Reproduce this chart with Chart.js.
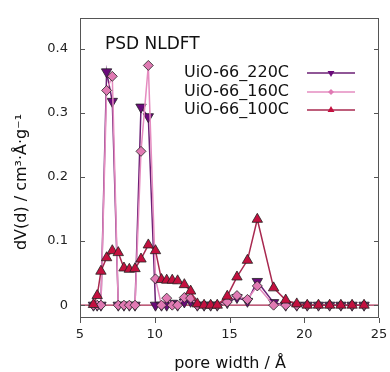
<!DOCTYPE html>
<html>
<head>
<meta charset="utf-8">
<script src="https://cdn.jsdelivr.net/npm/chart.js@4"></script>
<style>
  html, body { margin: 0; padding: 0; background: #fff; }
  #wrap { width: 390px; height: 372px; }
</style>
</head>
<body>
<div id="wrap"><canvas id="psdChart"></canvas></div>
<script>
// pore widths (Å), shared by all three samples
const poreWidth = [5.9, 6.15, 6.4, 6.78, 7.16, 7.56, 7.94, 8.3, 8.68, 9.08, 9.57, 10.05, 10.45, 10.8, 11.17, 11.53, 11.98, 12.4, 12.85, 13.3, 13.74, 14.18, 14.85, 15.5, 16.2, 16.86, 17.95, 18.76, 19.5, 20.2, 20.95, 21.7, 22.45, 23.2, 24.0];
// dV(d) per sample
const psd220 = [0, 0, 0, 0.364, 0.318, 0, 0, 0, 0, 0.309, 0.294, 0, 0, 0, 0.003, 0, 0.005, 0.006, 0, 0, 0, 0, 0.004, 0.012, 0.006, 0.037, 0.004, 0, 0, 0, 0, 0, 0, 0, 0];
const psd160 = [0, 0, 0, 0.335, 0.357, 0, 0, 0, 0, 0.24, 0.374, 0.041, 0, 0.011, 0, 0, 0.012, 0.011, 0, 0, 0, 0, 0.005, 0.015, 0.009, 0.03, 0, 0, 0, 0, 0, 0, 0, 0, 0];
const psd100 = [0.001, 0.015, 0.053, 0.074, 0.085, 0.082, 0.058, 0.056, 0.057, 0.072, 0.094, 0.085, 0.04, 0.039, 0.039, 0.038, 0.032, 0.022, 0.002, 0, 0, 0, 0.014, 0.044, 0.07, 0.134, 0.027, 0.008, 0.002, 0, 0, 0, 0, 0, 0];
const seriesNames = ["UiO-66_220C", "UiO-66_160C", "UiO-66_100C"];
const xTicks = [5, 10, 15, 20, 25];
const yTicks = [0, 0.1, 0.2, 0.3, 0.4];

const FONT = "'DejaVu Sans', sans-serif";
const lineCols = ["#6b1f75", "#e58cc0", "#a8284f"];
const fillCols = ["#6a0a7a", "#e07ab3", "#c4103f"];
const styles = [
  { pointStyle: "triangle", rotation: 180, radius: 6 },
  { pointStyle: "rectRot", rotation: 0, radius: 5 },
  { pointStyle: "triangle", rotation: 0, radius: 6 },
];

const toPts = (ys) => poreWidth.map((x, i) => ({ x: x, y: ys[i] }));

const datasets = [psd220, psd160, psd100].map((ys, i) => ({
  label: seriesNames[i],
  data: toPts(ys),
  borderColor: lineCols[i],
  borderWidth: 1.5,
  backgroundColor: fillCols[i],
  pointBackgroundColor: fillCols[i],
  pointBorderColor: "#222",
  pointBorderWidth: 0.8,
  pointStyle: styles[i].pointStyle,
  pointRotation: styles[i].rotation,
  pointRadius: styles[i].radius,
  tension: 0,
  order: 3 - i,
}));

// frame, ticks, zero line and texts
const decor = {
  id: "decor",
  beforeDatasetsDraw(chart) {
    const { ctx, chartArea: a, scales } = chart;
    const y0 = scales.y.getPixelForValue(0);
    ctx.save();
    ctx.strokeStyle = lineCols[2];
    ctx.lineWidth = 1.2;
    ctx.beginPath();
    ctx.moveTo(a.left, y0);
    ctx.lineTo(a.right, y0);
    ctx.stroke();
    ctx.restore();
  },
  afterDraw(chart) {
    const { ctx, chartArea: a, scales } = chart;
    ctx.save();
    ctx.strokeStyle = "#555";
    ctx.lineWidth = 1;
    ctx.strokeRect(a.left + 0.5, a.top + 0.5, a.right - a.left - 1, a.bottom - a.top - 1);
    ctx.beginPath();
    yTicks.forEach((v) => {
      const p = Math.round(scales.y.getPixelForValue(v)) + 0.5;
      ctx.moveTo(a.left, p); ctx.lineTo(a.left + 5, p);
      ctx.moveTo(a.right, p); ctx.lineTo(a.right - 5, p);
    });
    xTicks.forEach((v) => {
      const p = Math.round(scales.x.getPixelForValue(v)) + 0.5;
      ctx.moveTo(p, a.bottom); ctx.lineTo(p, a.bottom + 5);
    });
    ctx.stroke();

    ctx.fillStyle = "#111";
    ctx.textBaseline = "middle";
    ctx.font = "17px " + FONT;
    ctx.textAlign = "left";
    ctx.fillText("PSD NLDFT", 105, 45);

    // legend
    ctx.font = "16px " + FONT;
    ctx.textAlign = "right";
    const ly = [73, 92, 110];
    seriesNames.forEach((name, i) => {
      ctx.fillStyle = "#111";
      ctx.fillText(name, 289, ly[i]);
      ctx.strokeStyle = lineCols[i];
      ctx.lineWidth = 1.5;
      ctx.beginPath();
      ctx.moveTo(307, ly[i]);
      ctx.lineTo(355, ly[i]);
      ctx.stroke();
      ctx.fillStyle = fillCols[i];
      Chart.helpers.drawPoint(ctx, { pointStyle: styles[i].pointStyle, rotation: styles[i].rotation, radius: styles[i].radius - 2 }, 331, ly[i]);
    });

    // axis titles
    ctx.fillStyle = "#111";
    ctx.font = "16px " + FONT;
    ctx.textAlign = "center";
    ctx.fillText("pore width / Å", 230, 364);
    ctx.translate(22, 182);
    ctx.rotate(-Math.PI / 2);
    ctx.fillText("dV(d) / cm³·Å·g⁻¹", 0, 0);
    ctx.restore();
  },
};

new Chart("psdChart", {
  type: "line",
  data: { datasets: datasets },
  options: {
    responsive: true,
    maintainAspectRatio: false,
    animation: false,
    layout: { padding: { top: 18, right: 11, left: 0, bottom: 0 } },
    plugins: { legend: { display: false }, tooltip: { enabled: false } },
    scales: {
      x: {
        type: "linear",
        min: 5,
        max: 25,
        afterBuildTicks: (s) => { s.ticks = xTicks.map((v) => ({ value: v })); },
        afterFit: (s) => { s.height = 54; s.paddingLeft = 0; s.paddingRight = 0; },
        grid: { display: false, drawTicks: false },
        border: { display: false },
        ticks: { padding: 9, color: "#222", font: { family: FONT, size: 13 } },
      },
      y: {
        min: -0.02,
        max: 0.448,
        afterBuildTicks: (s) => { s.ticks = yTicks.map((v) => ({ value: v })); },
        afterFit: (s) => { s.width = 80; s.paddingTop = 0; s.paddingBottom = 0; },
        grid: { display: false, drawTicks: false },
        border: { display: false },
        ticks: { padding: 12, color: "#222", font: { family: FONT, size: 13 }, callback: (v) => String(Math.round(v * 10) / 10) },
      },
    },
  },
  plugins: [decor],
});
</script>
</body>
</html>
